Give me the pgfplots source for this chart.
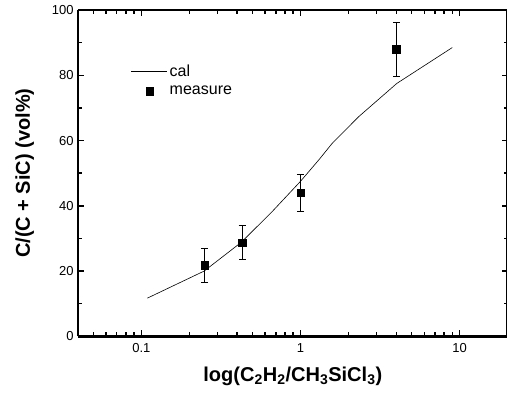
\documentclass[border=0pt]{standalone}
\usepackage{fontspec}
\setmainfont{Liberation Sans}
\usepackage{pgfplots}
\pgfplotsset{compat=1.18}
\pgfplotsset{
  callegend/.style={legend image code/.code={\draw[##1] (0pt,0pt) -- (36pt,0pt);}},
  measlegend/.style={legend image code/.code={\draw[##1] plot coordinates {(18pt,0pt)};}},
}
\begin{document}
\begin{tikzpicture}
\useasboundingbox (-78pt,-60pt) rectangle (428.5pt,336pt);
\begin{axis}[
  at={(0pt,0pt)}, anchor=south west,
  scale only axis,
  width=429pt, height=326pt,
  xmode=log,
  xmin=0.04, xmax=20,
  ymin=0, ymax=100,
  xtick={0.1,1,10},
  xticklabels={0.1,1,10},
  minor xtick={0.05,0.06,0.07,0.08,0.09,0.2,0.3,0.4,0.5,0.6,0.7,0.8,0.9,2,3,4,5,6,7,8,9},
  ytick={0,20,40,60,80,100},
  minor ytick={10,30,50,70,90},
  tick align=inside,
  major tick length=6pt,
  minor tick length=4pt,
  every tick/.style={black, line width=1.5pt},
  separate axis lines,
  axis line style={line width=2.8pt},
  /pgf/number format/assume math mode=true,
  tick label style={font=\fontsize{13}{15}\selectfont},
  xticklabel style={yshift=-4pt},
  yticklabel style={xshift=-1pt},
  xlabel={\bfseries log(C\textsubscript{2}H\textsubscript{2}/CH\textsubscript{3}SiCl\textsubscript{3})},
  ylabel={\bfseries C/(C + SiC) (vol\%)},
  label style={font=\fontsize{20}{24}\selectfont},
  xlabel style={yshift=-7pt},
  ylabel style={yshift=11pt},
  legend style={draw=none, fill=none, at={(0.123,0.838)}, anchor=north west,
    font=\fontsize{16}{18}\selectfont, row sep=4pt, inner sep=0pt},
  legend cell align=left,
]
\addplot[black, line width=0.6pt, callegend]
  coordinates {
  (0.109,11.7) (0.248,20.0) (0.424,28.8) (0.66,38.1) (1.0,47.5)
  (1.3,54.0) (1.58,59.1) (2.32,67.3) (4.03,77.5) (9.0,88.5)
  };
\addlegendentry{cal}
\addplot[black, only marks, mark=square*, mark size=3.6pt, measlegend,
  error bars/.cd, y dir=both, y explicit,
  error mark options={rotate=90, mark size=3.5pt, line width=0.6pt},
  error bar style={line width=0.6pt}]
  table[x=x, y=y, y error=e] {
  x y e
  0.25 21.8 5.2
  0.43 28.8 5.2
  1.0 44.1 5.7
  4.0 88.0 8.2
  };
\addlegendentry{measure}
\end{axis}
\end{tikzpicture}
\end{document}
